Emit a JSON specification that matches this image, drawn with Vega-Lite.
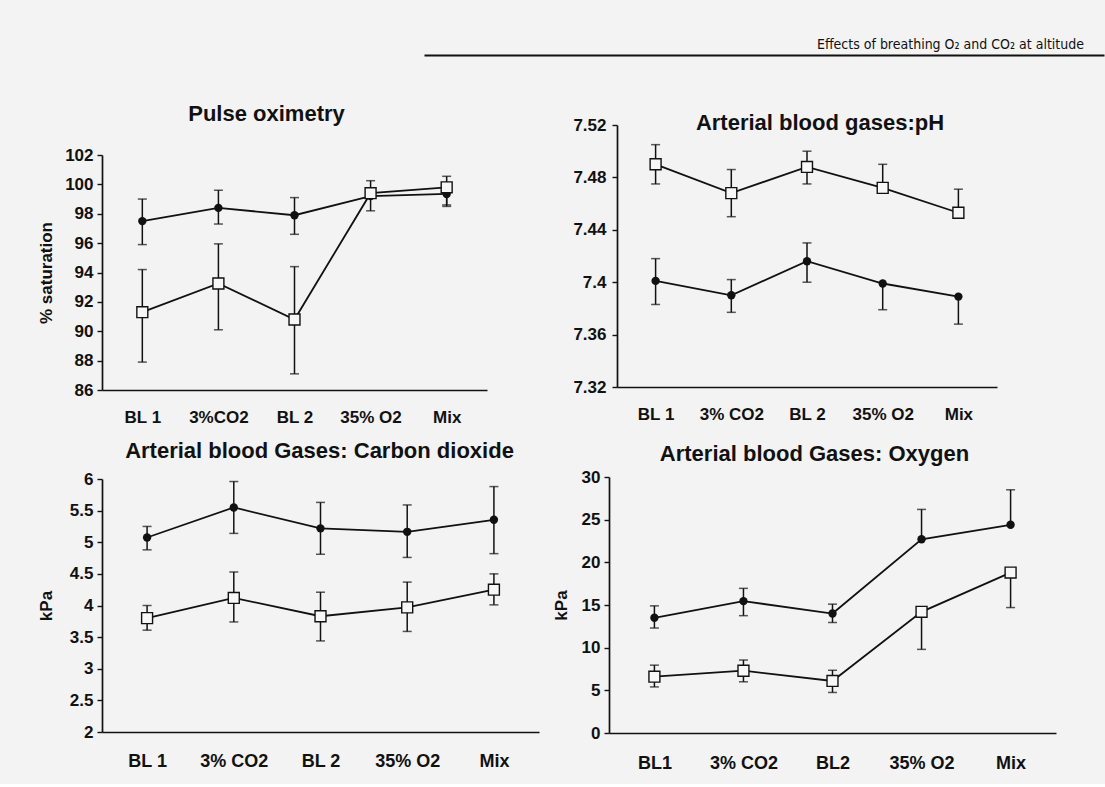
{
  "$schema": "https://vega.github.io/schema/vega-lite/v6.json",
  "background": "#f3f3f3",
  "padding": {"left": 37, "top": 35, "right": 0, "bottom": 12},
  "config": {
    "view": {"stroke": null},
    "font": "Liberation Sans",
    "axis": {
      "grid": false,
      "domainColor": "#111111",
      "domainWidth": 1.7,
      "tickColor": "#111111",
      "tickWidth": 1.4,
      "tickSize": 5,
      "labelFont": "Liberation Sans",
      "labelFontWeight": "bold",
      "labelColor": "#111111",
      "labelFontSize": 17,
      "labelPadding": 4,
      "titleFont": "Liberation Sans",
      "titleFontWeight": "bold",
      "titleColor": "#111111",
      "titleFontSize": 17
    },
    "axisX": {"ticks": false, "labelAngle": 0, "labelFontSize": 17, "labelPadding": 19},
    "title": {"font": "Liberation Sans", "fontSize": 22, "fontWeight": "bold", "color": "#111111", "frame": "group"}
  },
  "columns": 2,
  "align": "each",
  "bounds": "flush",
  "spacing": {"row": 70, "column": 72},
  "concat": [
    {
      "width": 250,
      "height": 20,
      "data": {"values": []},
      "mark": "point",
      "encoding": {}
    },
    {
      "width": 487,
      "height": 20,
      "data": {"values": [{"page": "Effects of breathing O₂ and CO₂ at altitude"}]},
      "mark": {"type": "text", "align": "right", "dx": -20, "font": "Liberation Sans Narrow, DejaVu Sans Condensed, sans-serif", "fontSize": 14, "color": "#111111"},
      "encoding": {
        "text": {"field": "page"},
        "x": {"datum": 1, "type": "quantitative", "scale": {"domain": [0, 1], "range": [-193, 487]}, "axis": {"title": null, "labels": false, "ticks": false, "domainWidth": 2}}
      }
    },
    {
      "width": 443,
      "height": 265,
      "title": {"text": "Pulse oximetry", "dx": -57, "offset": -1},
      "data": {"values": [
        {"condition": "BL 1", "series": "filled", "mean": 97.5, "lo": 95.9, "hi": 99.0},
        {"condition": "3%CO2", "series": "filled", "mean": 98.4, "lo": 97.3, "hi": 99.6},
        {"condition": "BL 2", "series": "filled", "mean": 97.9, "lo": 96.6, "hi": 99.1},
        {"condition": "35% O2", "series": "filled", "mean": 99.2, "lo": 99.2, "hi": 99.2},
        {"condition": "Mix", "series": "filled", "mean": 99.35, "lo": 98.6, "hi": 99.35},
        {"condition": "BL 1", "series": "open", "mean": 91.3, "lo": 87.9, "hi": 94.2},
        {"condition": "3%CO2", "series": "open", "mean": 93.25, "lo": 90.1, "hi": 95.95},
        {"condition": "BL 2", "series": "open", "mean": 90.8, "lo": 87.1, "hi": 94.4},
        {"condition": "35% O2", "series": "open", "mean": 99.4, "lo": 98.2, "hi": 100.25},
        {"condition": "Mix", "series": "open", "mean": 99.8, "lo": 98.5, "hi": 100.55}
      ]},
      "encoding": {
        "x": {"field": "condition", "type": "nominal", "sort": ["BL 1", "3%CO2", "BL 2", "35% O2", "Mix"], "scale": {"type": "point", "range": [0, 385], "padding": 0.53}, "axis": {"title": null}}
      },
      "layer": [
        {
          "mark": {"type": "rule", "color": "#111111", "strokeWidth": 1.5},
          "encoding": {
            "y": {"field": "lo", "type": "quantitative", "scale": {"domain": [86, 102], "range": [265, 30], "zero": false, "nice": false}, "axis": {"values": [86, 88, 90, 92, 94, 96, 98, 100, 102], "title": "% saturation", "titlePadding": 9}},
            "y2": {"field": "hi"}
          }
        },
        {
          "transform": [{"filter": "datum.hi > datum.mean"}],
          "mark": {"type": "tick", "orient": "horizontal", "size": 9, "thickness": 1.5, "color": "#111111"},
          "encoding": {"y": {"field": "hi", "type": "quantitative", "scale": {"domain": [86, 102], "range": [265, 30], "zero": false, "nice": false}, "axis": {"values": [86, 88, 90, 92, 94, 96, 98, 100, 102], "title": "% saturation", "titlePadding": 9}}}
        },
        {
          "transform": [{"filter": "datum.lo < datum.mean"}],
          "mark": {"type": "tick", "orient": "horizontal", "size": 9, "thickness": 1.5, "color": "#111111"},
          "encoding": {"y": {"field": "lo", "type": "quantitative", "scale": {"domain": [86, 102], "range": [265, 30], "zero": false, "nice": false}, "axis": {"values": [86, 88, 90, 92, 94, 96, 98, 100, 102], "title": "% saturation", "titlePadding": 9}}}
        },
        {
          "mark": {"type": "line", "color": "#111111", "strokeWidth": 1.8},
          "encoding": {
            "y": {"field": "mean", "type": "quantitative", "scale": {"domain": [86, 102], "range": [265, 30], "zero": false, "nice": false}, "axis": {"values": [86, 88, 90, 92, 94, 96, 98, 100, 102], "title": "% saturation", "titlePadding": 9}},
            "detail": {"field": "series"},
            "order": {"value": null}
          }
        },
        {
          "transform": [{"filter": "datum.series == 'filled'"}],
          "mark": {"type": "point", "shape": "circle", "filled": true, "size": 70, "color": "#111111", "opacity": 1},
          "encoding": {"y": {"field": "mean", "type": "quantitative", "scale": {"domain": [86, 102], "range": [265, 30], "zero": false, "nice": false}, "axis": {"values": [86, 88, 90, 92, 94, 96, 98, 100, 102], "title": "% saturation", "titlePadding": 9}}}
        },
        {
          "transform": [{"filter": "datum.series == 'open'"}],
          "mark": {"type": "point", "shape": "square", "filled": true, "fill": "#f7f7f7", "stroke": "#111111", "strokeWidth": 1.4, "size": 120, "opacity": 1},
          "encoding": {"y": {"field": "mean", "type": "quantitative", "scale": {"domain": [86, 102], "range": [265, 30], "zero": false, "nice": false}, "axis": {"values": [86, 88, 90, 92, 94, 96, 98, 100, 102], "title": "% saturation", "titlePadding": 9}}}
        }
      ]
    },
    {
      "width": 380,
      "height": 262,
      "title": {"text": "Arterial blood gases:pH", "dx": 13, "offset": -19},
      "data": {"values": [
        {"condition": "BL 1", "series": "open", "mean": 7.490, "lo": 7.475, "hi": 7.505},
        {"condition": "3% CO2", "series": "open", "mean": 7.468, "lo": 7.450, "hi": 7.486},
        {"condition": "BL 2", "series": "open", "mean": 7.488, "lo": 7.475, "hi": 7.500},
        {"condition": "35% O2", "series": "open", "mean": 7.472, "lo": 7.472, "hi": 7.490},
        {"condition": "Mix", "series": "open", "mean": 7.453, "lo": 7.453, "hi": 7.471},
        {"condition": "BL 1", "series": "filled", "mean": 7.401, "lo": 7.383, "hi": 7.418},
        {"condition": "3% CO2", "series": "filled", "mean": 7.390, "lo": 7.377, "hi": 7.402},
        {"condition": "BL 2", "series": "filled", "mean": 7.416, "lo": 7.400, "hi": 7.430},
        {"condition": "35% O2", "series": "filled", "mean": 7.399, "lo": 7.379, "hi": 7.399},
        {"condition": "Mix", "series": "filled", "mean": 7.389, "lo": 7.368, "hi": 7.389}
      ]},
      "encoding": {
        "x": {"field": "condition", "type": "nominal", "sort": ["BL 1", "3% CO2", "BL 2", "35% O2", "Mix"], "scale": {"type": "point", "range": [0, 380], "padding": 0.51}, "axis": {"title": null}}
      },
      "layer": [
        {
          "mark": {"type": "rule", "color": "#111111", "strokeWidth": 1.5},
          "encoding": {
            "y": {"field": "lo", "type": "quantitative", "scale": {"domain": [7.32, 7.52], "zero": false, "nice": false}, "axis": {"values": [7.32, 7.36, 7.4, 7.44, 7.48, 7.52], "format": ".2~f", "title": null, "labelPadding": 6}},
            "y2": {"field": "hi"}
          }
        },
        {
          "transform": [{"filter": "datum.hi > datum.mean"}],
          "mark": {"type": "tick", "orient": "horizontal", "size": 9, "thickness": 1.5, "color": "#111111"},
          "encoding": {"y": {"field": "hi", "type": "quantitative", "scale": {"domain": [7.32, 7.52], "zero": false, "nice": false}, "axis": {"values": [7.32, 7.36, 7.4, 7.44, 7.48, 7.52], "format": ".2~f", "title": null, "labelPadding": 6}}}
        },
        {
          "transform": [{"filter": "datum.lo < datum.mean"}],
          "mark": {"type": "tick", "orient": "horizontal", "size": 9, "thickness": 1.5, "color": "#111111"},
          "encoding": {"y": {"field": "lo", "type": "quantitative", "scale": {"domain": [7.32, 7.52], "zero": false, "nice": false}, "axis": {"values": [7.32, 7.36, 7.4, 7.44, 7.48, 7.52], "format": ".2~f", "title": null, "labelPadding": 6}}}
        },
        {
          "mark": {"type": "line", "color": "#111111", "strokeWidth": 1.8},
          "encoding": {
            "y": {"field": "mean", "type": "quantitative", "scale": {"domain": [7.32, 7.52], "zero": false, "nice": false}, "axis": {"values": [7.32, 7.36, 7.4, 7.44, 7.48, 7.52], "format": ".2~f", "title": null, "labelPadding": 6}},
            "detail": {"field": "series"},
            "order": {"value": null}
          }
        },
        {
          "transform": [{"filter": "datum.series == 'filled'"}],
          "mark": {"type": "point", "shape": "circle", "filled": true, "size": 70, "color": "#111111", "opacity": 1},
          "encoding": {"y": {"field": "mean", "type": "quantitative", "scale": {"domain": [7.32, 7.52], "zero": false, "nice": false}, "axis": {"values": [7.32, 7.36, 7.4, 7.44, 7.48, 7.52], "format": ".2~f", "title": null, "labelPadding": 6}}}
        },
        {
          "transform": [{"filter": "datum.series == 'open'"}],
          "mark": {"type": "point", "shape": "square", "filled": true, "fill": "#f7f7f7", "stroke": "#111111", "strokeWidth": 1.4, "size": 120, "opacity": 1},
          "encoding": {"y": {"field": "mean", "type": "quantitative", "scale": {"domain": [7.32, 7.52], "zero": false, "nice": false}, "axis": {"values": [7.32, 7.36, 7.4, 7.44, 7.48, 7.52], "format": ".2~f", "title": null, "labelPadding": 6}}}
        }
      ]
    },
    {
      "width": 435,
      "height": 272,
      "title": {"text": "Arterial blood Gases: Carbon dioxide", "offset": -3},
      "data": {"values": [
        {"condition": "BL 1", "series": "filled", "mean": 5.075, "lo": 4.88, "hi": 5.25},
        {"condition": "3% CO2", "series": "filled", "mean": 5.55, "lo": 5.14, "hi": 5.96},
        {"condition": "BL 2", "series": "filled", "mean": 5.22, "lo": 4.81, "hi": 5.63},
        {"condition": "35% O2", "series": "filled", "mean": 5.165, "lo": 4.76, "hi": 5.59},
        {"condition": "Mix", "series": "filled", "mean": 5.355, "lo": 4.82, "hi": 5.88},
        {"condition": "BL 1", "series": "open", "mean": 3.80, "lo": 3.61, "hi": 4.00},
        {"condition": "3% CO2", "series": "open", "mean": 4.12, "lo": 3.74, "hi": 4.53},
        {"condition": "BL 2", "series": "open", "mean": 3.83, "lo": 3.44, "hi": 4.21},
        {"condition": "35% O2", "series": "open", "mean": 3.97, "lo": 3.59, "hi": 4.37},
        {"condition": "Mix", "series": "open", "mean": 4.25, "lo": 4.01, "hi": 4.50}
      ]},
      "encoding": {
        "x": {"field": "condition", "type": "nominal", "sort": ["BL 1", "3% CO2", "BL 2", "35% O2", "Mix"], "scale": {"type": "point", "range": [0, 437], "padding": 0.52}, "axis": {"title": null, "labelFontSize": 18, "labelPadding": 20}}
      },
      "layer": [
        {
          "mark": {"type": "rule", "color": "#111111", "strokeWidth": 1.5},
          "encoding": {
            "y": {"field": "lo", "type": "quantitative", "scale": {"domain": [2, 6], "range": [272, 19], "zero": false, "nice": false}, "axis": {"values": [2, 2.5, 3, 3.5, 4, 4.5, 5, 5.5, 6], "format": "~g", "title": "kPa", "titlePadding": 14}},
            "y2": {"field": "hi"}
          }
        },
        {
          "transform": [{"filter": "datum.hi > datum.mean"}],
          "mark": {"type": "tick", "orient": "horizontal", "size": 9, "thickness": 1.5, "color": "#111111"},
          "encoding": {"y": {"field": "hi", "type": "quantitative", "scale": {"domain": [2, 6], "range": [272, 19], "zero": false, "nice": false}, "axis": {"values": [2, 2.5, 3, 3.5, 4, 4.5, 5, 5.5, 6], "format": "~g", "title": "kPa", "titlePadding": 14}}}
        },
        {
          "transform": [{"filter": "datum.lo < datum.mean"}],
          "mark": {"type": "tick", "orient": "horizontal", "size": 9, "thickness": 1.5, "color": "#111111"},
          "encoding": {"y": {"field": "lo", "type": "quantitative", "scale": {"domain": [2, 6], "range": [272, 19], "zero": false, "nice": false}, "axis": {"values": [2, 2.5, 3, 3.5, 4, 4.5, 5, 5.5, 6], "format": "~g", "title": "kPa", "titlePadding": 14}}}
        },
        {
          "mark": {"type": "line", "color": "#111111", "strokeWidth": 1.8},
          "encoding": {
            "y": {"field": "mean", "type": "quantitative", "scale": {"domain": [2, 6], "range": [272, 19], "zero": false, "nice": false}, "axis": {"values": [2, 2.5, 3, 3.5, 4, 4.5, 5, 5.5, 6], "format": "~g", "title": "kPa", "titlePadding": 14}},
            "detail": {"field": "series"},
            "order": {"value": null}
          }
        },
        {
          "transform": [{"filter": "datum.series == 'filled'"}],
          "mark": {"type": "point", "shape": "circle", "filled": true, "size": 70, "color": "#111111", "opacity": 1},
          "encoding": {"y": {"field": "mean", "type": "quantitative", "scale": {"domain": [2, 6], "range": [272, 19], "zero": false, "nice": false}, "axis": {"values": [2, 2.5, 3, 3.5, 4, 4.5, 5, 5.5, 6], "format": "~g", "title": "kPa", "titlePadding": 14}}}
        },
        {
          "transform": [{"filter": "datum.series == 'open'"}],
          "mark": {"type": "point", "shape": "square", "filled": true, "fill": "#f7f7f7", "stroke": "#111111", "strokeWidth": 1.4, "size": 120, "opacity": 1},
          "encoding": {"y": {"field": "mean", "type": "quantitative", "scale": {"domain": [2, 6], "range": [272, 19], "zero": false, "nice": false}, "axis": {"values": [2, 2.5, 3, 3.5, 4, 4.5, 5, 5.5, 6], "format": "~g", "title": "kPa", "titlePadding": 14}}}
        }
      ]
    },
    {
      "width": 445,
      "height": 273,
      "title": {"text": "Arterial blood Gases: Oxygen", "dx": -25, "offset": -6},
      "data": {"values": [
        {"condition": "BL1", "series": "filled", "mean": 13.5, "lo": 12.3, "hi": 14.9},
        {"condition": "3% CO2", "series": "filled", "mean": 15.45, "lo": 13.75, "hi": 16.95},
        {"condition": "BL2", "series": "filled", "mean": 14.0, "lo": 12.95, "hi": 15.1},
        {"condition": "35% O2", "series": "filled", "mean": 22.7, "lo": 22.7, "hi": 26.2},
        {"condition": "Mix", "series": "filled", "mean": 24.4, "lo": 24.4, "hi": 28.5},
        {"condition": "BL1", "series": "open", "mean": 6.6, "lo": 5.4, "hi": 7.95},
        {"condition": "3% CO2", "series": "open", "mean": 7.3, "lo": 6.0, "hi": 8.55},
        {"condition": "BL2", "series": "open", "mean": 6.1, "lo": 4.75, "hi": 7.35},
        {"condition": "35% O2", "series": "open", "mean": 14.2, "lo": 9.8, "hi": 14.2},
        {"condition": "Mix", "series": "open", "mean": 18.8, "lo": 14.7, "hi": 18.8}
      ]},
      "encoding": {
        "x": {"field": "condition", "type": "nominal", "sort": ["BL1", "3% CO2", "BL2", "35% O2", "Mix"], "scale": {"type": "point", "range": [-8, 439], "padding": 0.51}, "axis": {"title": null, "labelFontSize": 18, "labelPadding": 21}}
      },
      "layer": [
        {
          "mark": {"type": "rule", "color": "#111111", "strokeWidth": 1.5},
          "encoding": {
            "y": {"field": "lo", "type": "quantitative", "scale": {"domain": [0, 30], "range": [273, 17], "nice": false}, "axis": {"values": [0, 5, 10, 15, 20, 25, 30], "title": "kPa", "titlePadding": 11, "offset": 8}},
            "y2": {"field": "hi"}
          }
        },
        {
          "transform": [{"filter": "datum.hi > datum.mean"}],
          "mark": {"type": "tick", "orient": "horizontal", "size": 9, "thickness": 1.5, "color": "#111111"},
          "encoding": {"y": {"field": "hi", "type": "quantitative", "scale": {"domain": [0, 30], "range": [273, 17], "nice": false}, "axis": {"values": [0, 5, 10, 15, 20, 25, 30], "title": "kPa", "titlePadding": 11, "offset": 8}}}
        },
        {
          "transform": [{"filter": "datum.lo < datum.mean"}],
          "mark": {"type": "tick", "orient": "horizontal", "size": 9, "thickness": 1.5, "color": "#111111"},
          "encoding": {"y": {"field": "lo", "type": "quantitative", "scale": {"domain": [0, 30], "range": [273, 17], "nice": false}, "axis": {"values": [0, 5, 10, 15, 20, 25, 30], "title": "kPa", "titlePadding": 11, "offset": 8}}}
        },
        {
          "mark": {"type": "line", "color": "#111111", "strokeWidth": 1.8},
          "encoding": {
            "y": {"field": "mean", "type": "quantitative", "scale": {"domain": [0, 30], "range": [273, 17], "nice": false}, "axis": {"values": [0, 5, 10, 15, 20, 25, 30], "title": "kPa", "titlePadding": 11, "offset": 8}},
            "detail": {"field": "series"},
            "order": {"value": null}
          }
        },
        {
          "transform": [{"filter": "datum.series == 'filled'"}],
          "mark": {"type": "point", "shape": "circle", "filled": true, "size": 70, "color": "#111111", "opacity": 1},
          "encoding": {"y": {"field": "mean", "type": "quantitative", "scale": {"domain": [0, 30], "range": [273, 17], "nice": false}, "axis": {"values": [0, 5, 10, 15, 20, 25, 30], "title": "kPa", "titlePadding": 11, "offset": 8}}}
        },
        {
          "transform": [{"filter": "datum.series == 'open'"}],
          "mark": {"type": "point", "shape": "square", "filled": true, "fill": "#f7f7f7", "stroke": "#111111", "strokeWidth": 1.4, "size": 120, "opacity": 1},
          "encoding": {"y": {"field": "mean", "type": "quantitative", "scale": {"domain": [0, 30], "range": [273, 17], "nice": false}, "axis": {"values": [0, 5, 10, 15, 20, 25, 30], "title": "kPa", "titlePadding": 11, "offset": 8}}}
        }
      ]
    }
  ]
}
